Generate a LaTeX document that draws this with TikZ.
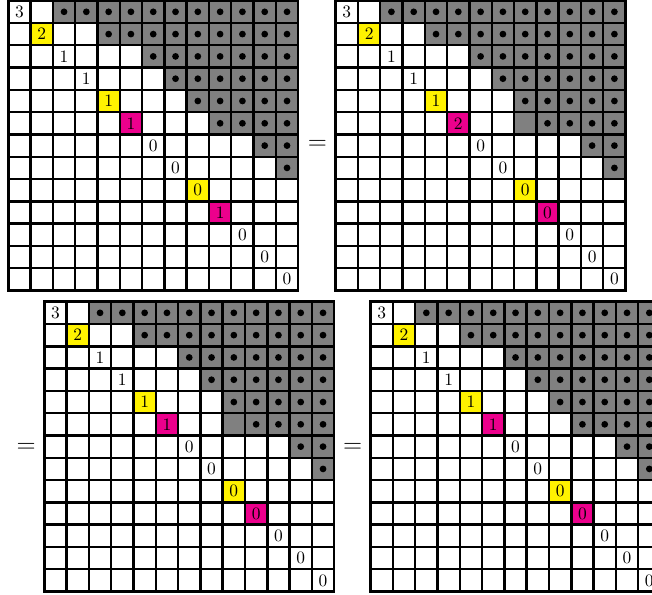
\documentclass[tikz,border=0pt]{standalone}
\usepackage{tikz}
\usetikzlibrary{positioning}

\definecolor{hlyellow}{RGB}{255,242,0}
\definecolor{hlmagenta}{RGB}{236,0,140}

\begin{document}
\begin{tikzpicture}[
    x=0.45cm, y=-0.45cm,
    gridline/.style={line width=1.4pt, line cap=rect},
    shaded/.style={fill=gray},
    marked/.style={fill=hlyellow},
    pivot/.style={fill=hlmagenta},
    entry/.style={inner sep=0pt, font=\normalsize},
    eqsign/.style={inner sep=0pt, font=\Large}
]

% Frame of the whole figure (right grid is cut off)
\useasboundingbox (0,0) rectangle (29.24,26.64);

% The four matrices: index / offset / extra gray cell / entries (6,6) and (10,10)
\foreach \g/\gx/\gy/\extra/\six/\ten in {1/0.372/0.03/0/1/1, 2/15.054/0.03/1/2/0, 3/1.987/13.53/1/1/0, 4/16.62/13.53/0/1/0} {
  \begin{scope}[shift={(\gx,\gy)}]
    % gray upper part
    \foreach \r/\c in {1/3,2/5,3/7,4/8,5/9,6/10,7/12,8/13}
      \fill[shaded] (\c-1,\r-1) rectangle (13,\r);
    \ifnum\extra=1
      \fill[shaded] (8,5) rectangle (9,6);
    \fi
    % highlighted diagonal cells
    \foreach \i in {2,5,9}
      \fill[marked] (\i-1,\i-1) rectangle (\i,\i);
    \foreach \i in {6,10}
      \fill[pivot] (\i-1,\i-1) rectangle (\i,\i);
    % grid
    \foreach \i in {0,...,13} {
      \draw[gridline] (\i,0) -- (\i,13);
      \draw[gridline] (0,\i) -- (13,\i);
    }
    % dots
    \foreach \r/\c in {1/3,2/5,3/7,4/8,5/9,6/10,7/12,8/13}
      \foreach \k in {\c,...,13}
        \fill (\k-0.5,\r-0.5) circle (0.068cm);
    % diagonal entries
    \foreach \i/\v in {1/3,2/2,3/1,4/1,5/1,6/\six,7/0,8/0,9/0,10/\ten,11/0,12/0,13/0}
      \node[entry] (g\g-\i) at (\i-0.5,\i-0.5) {\v};
  \end{scope}
}

% Equal signs
\node[eqsign] (eq1) at (14.24,6.50) {$=$};
\node[eqsign] (eq2) at (1.175,20.10) {$=$};
\node[eqsign] (eq3) at (15.82,20.10) {$=$};

\end{tikzpicture}
\end{document}
